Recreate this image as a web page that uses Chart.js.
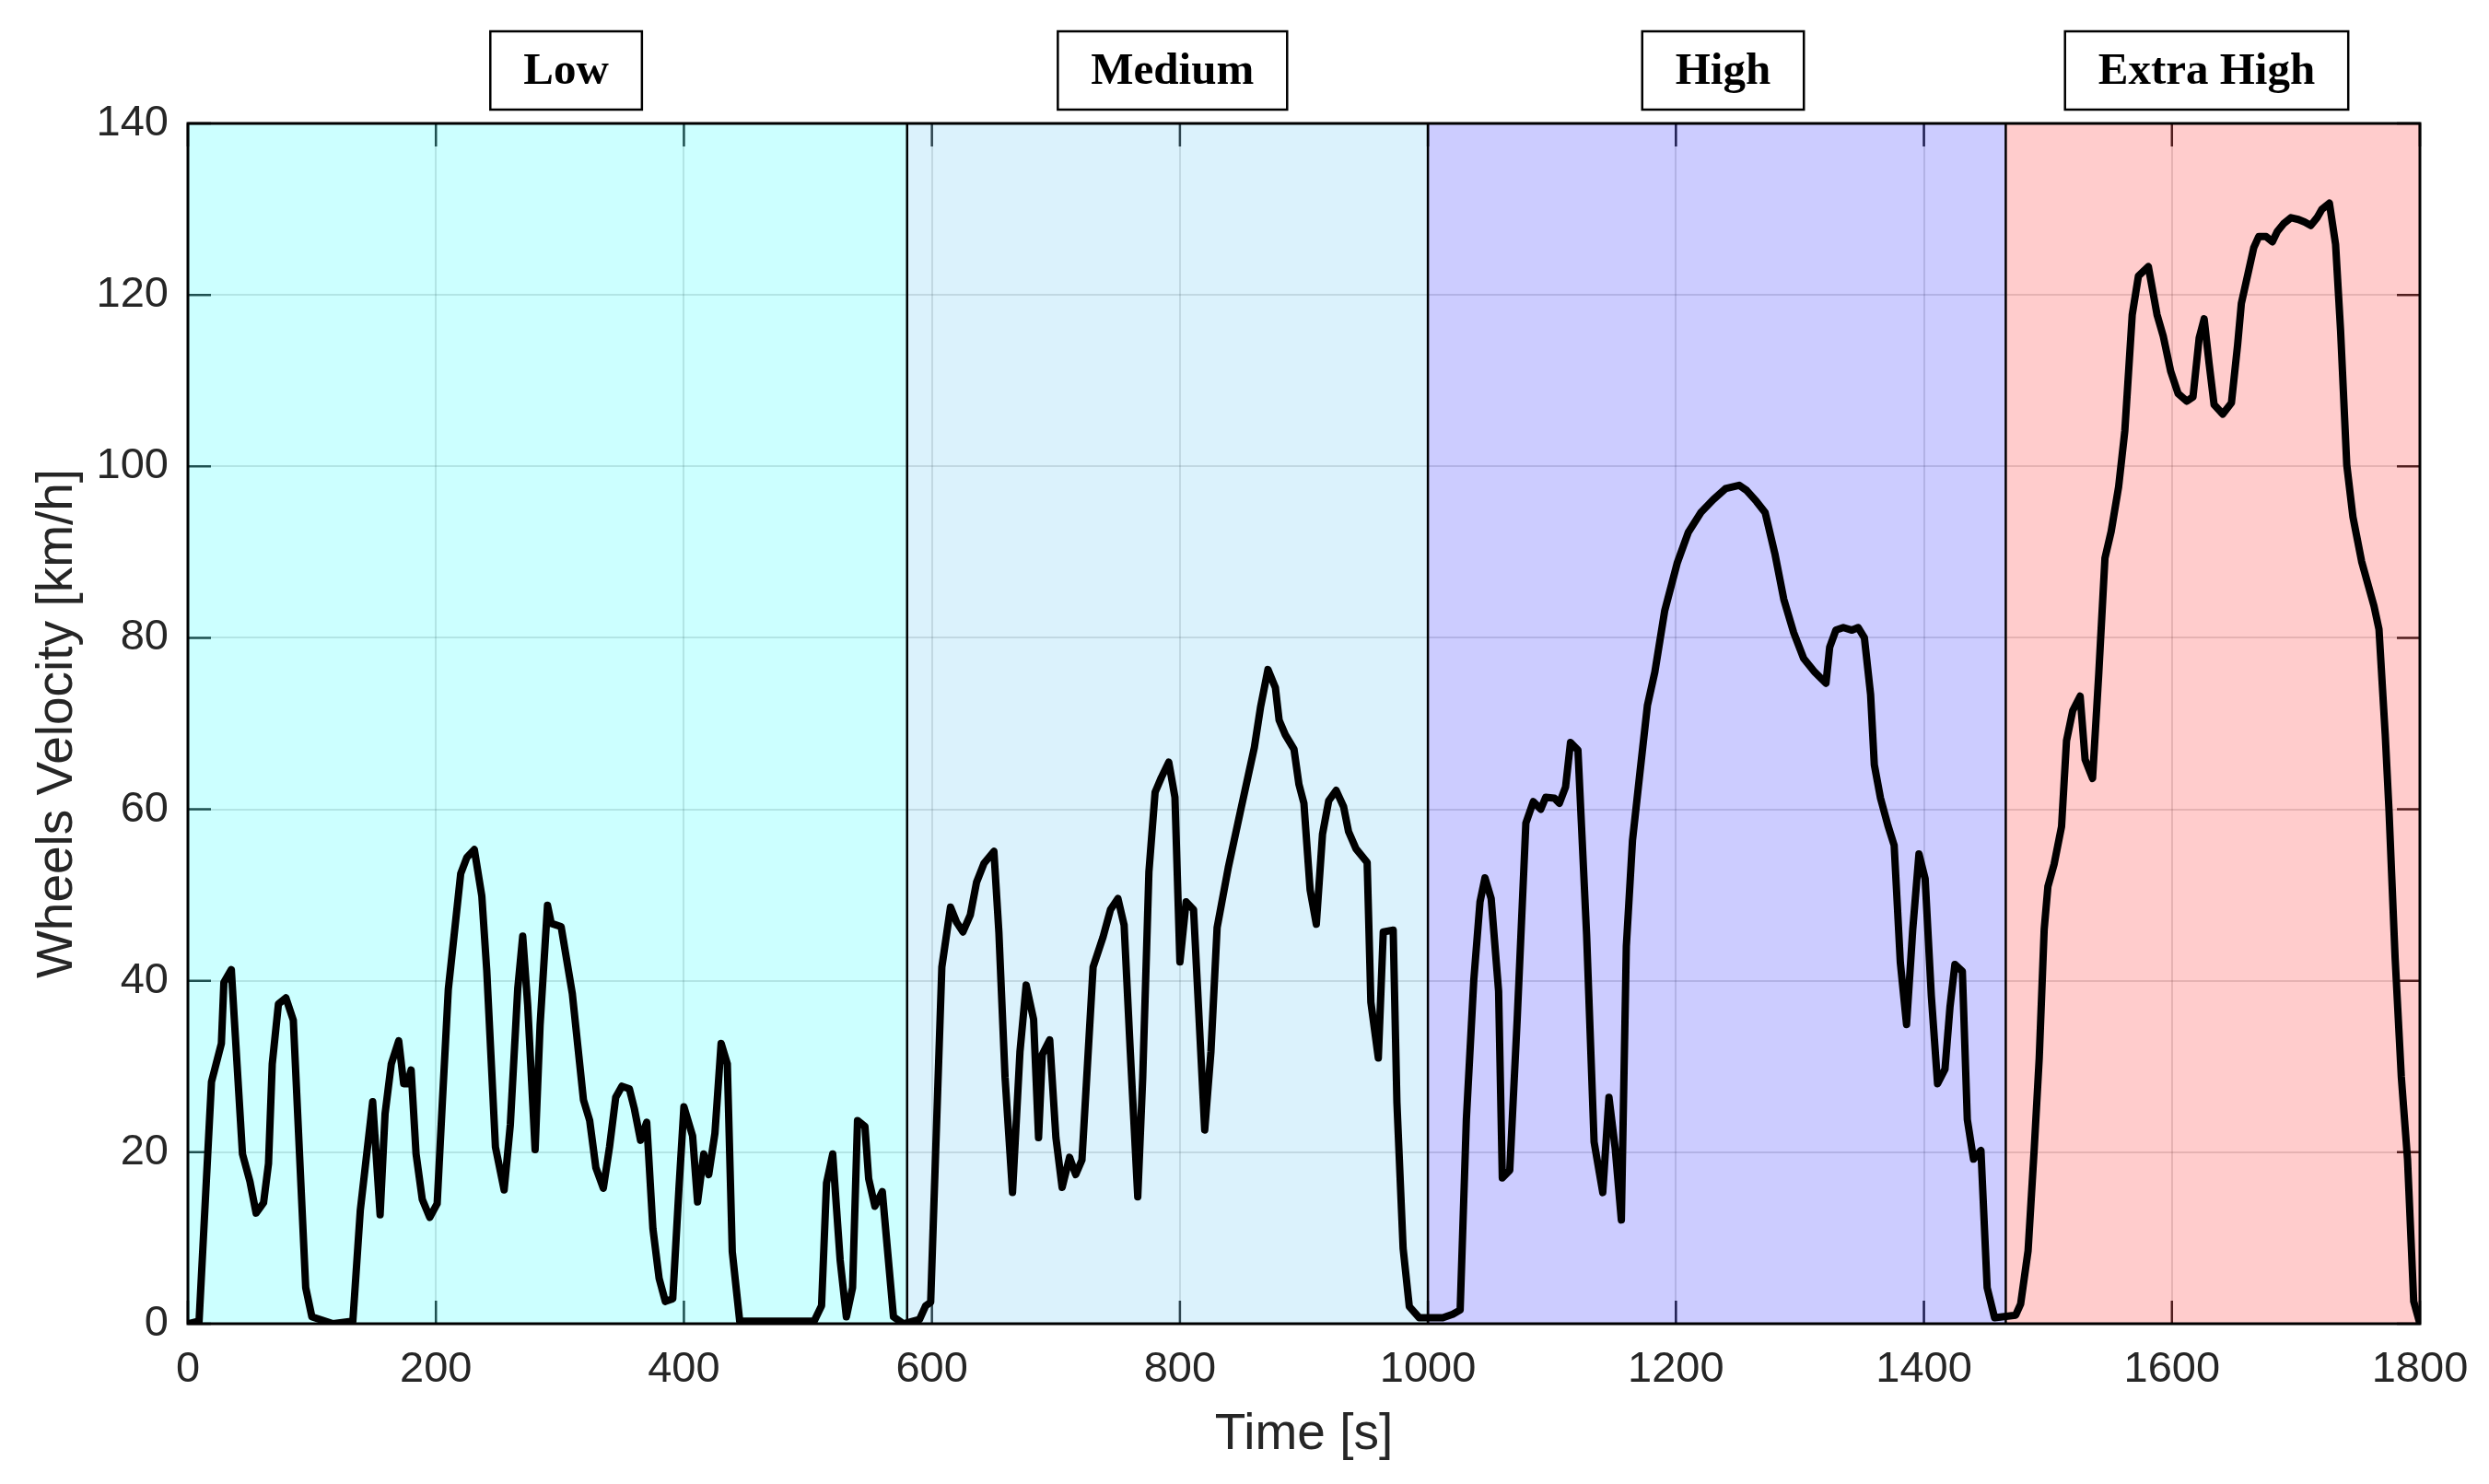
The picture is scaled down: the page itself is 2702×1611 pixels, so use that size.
<!DOCTYPE html>
<html>
<head>
<meta charset="utf-8">
<title>WLTP - Wheels Velocity</title>
<script src="https://cdn.jsdelivr.net/npm/chart.js@4.4.1/dist/chart.umd.min.js"></script>
<style>
  html, body { margin: 0; padding: 0; background: #ffffff; }
  canvas { display: block; }
</style>
</head>
<body>
<canvas id="miGrafica" width="2702" height="1611"></canvas>
<script>
// Datos: tiempo [s] y velocidad [km/h]
const tiempo = [
  // Low
  0, 9, 19, 27, 29, 35, 44, 50, 55, 61,
  65, 68, 73, 79, 85, 95, 100, 117, 133, 139,
  149, 155, 159, 164, 170, 174, 177, 180, 184, 189,
  195, 201, 205, 210, 220, 225, 231, 237, 241, 248,
  255, 260, 266, 270, 274, 280, 284, 290, 293, 301,
  310, 319, 324, 329, 335, 340, 345, 350, 356, 360,
  365, 370, 375, 380, 385, 391, 396, 400, 407, 411,
  416, 420, 425, 430, 435, 439, 445, 505, 511, 515,
  520, 526, 531, 536, 540, 546, 549, 554, 560, 569,
  577, 590, 595,
  // Medium
  599, 603, 608, 615, 620, 625, 631, 636, 642, 650,
  654, 659, 665, 671, 676, 682, 686, 689, 695, 700,
  705, 711, 716, 721, 730, 738, 744, 750, 755, 760,
  766, 770, 775, 780, 785, 791, 796, 800, 805, 811,
  820, 825, 830, 839, 849, 860, 865, 871, 877, 880,
  885, 892, 896, 900, 905, 910, 915, 920, 926, 932,
  936, 942, 951, 954, 960, 964, 972, 975, 980, 985,
  993, 1012,
  // High
  1020, 1026, 1031, 1037, 1042, 1046, 1051, 1057, 1060, 1066,
  1072, 1079, 1085, 1091, 1095, 1102, 1106, 1111, 1115, 1121,
  1128, 1134, 1141, 1146, 1151, 1156, 1160, 1165, 1171, 1177,
  1183, 1191, 1201, 1210, 1220, 1230, 1240, 1251, 1257, 1265,
  1272, 1280, 1287, 1295, 1303, 1312, 1321, 1324, 1329, 1335,
  1342, 1347, 1352, 1357, 1360, 1365, 1371, 1376, 1381, 1386,
  1391, 1396, 1401, 1406, 1411, 1417, 1421, 1425, 1431, 1435,
  1440, 1446, 1451, 1457, 1474, 1478,
  // Extra High
  1484, 1489, 1493, 1497, 1500, 1505, 1511, 1515, 1520, 1526,
  1530, 1536, 1541, 1546, 1551, 1557, 1562, 1568, 1573, 1581,
  1588, 1593, 1599, 1605, 1612, 1617, 1622, 1626, 1630, 1634,
  1641, 1648, 1653, 1656, 1662, 1666, 1670, 1676, 1681, 1685,
  1690, 1696, 1702, 1707, 1712, 1717, 1721, 1727, 1732, 1736,
  1741, 1746, 1753, 1763, 1767, 1772, 1775, 1780, 1785, 1790,
  1795, 1800
];

const velocidad = [
  // Low
  0, 0.3, 28.2, 32.7, 39.8, 41.3, 19.8, 16.6, 12.9, 14.1,
  18.7, 30.3, 37.3, 38.0, 35.4, 4.2, 0.8, 0, 0.3, 13.2,
  25.9, 12.7, 24.5, 30.3, 33.0, 28.0, 28.0, 29.6, 19.8, 14.5,
  12.4, 14.0, 25.3, 39.0, 52.5, 54.4, 55.3, 49.9, 41.2, 20.6,
  15.6, 23.2, 39.1, 45.2, 37.2, 20.3, 34.8, 48.8, 46.7, 46.3,
  38.5, 26.1, 23.7, 18.2, 15.8, 20.6, 26.4, 27.7, 27.4, 25.1,
  21.4, 23.5, 11.1, 5.3, 2.6, 2.9, 15.8, 25.3, 21.9, 14.2,
  19.8, 17.4, 22.2, 32.7, 30.3, 8.4, 0.3, 0.3, 2.1, 16.4,
  19.8, 7.4, 0.8, 4.2, 23.7, 23.0, 16.9, 13.7, 15.4, 0.8,
  0, 0.5, 2.1,
  // Medium
  2.5, 20, 41.6, 48.6, 46.8, 45.7, 47.7, 51.5, 53.7, 55.1,
  45.7, 28.7, 15.3, 31.7, 39.5, 35.5, 21.7, 31.4, 33.1, 21.7,
  15.9, 19.4, 17.4, 19.1, 41.6, 45.1, 48.3, 49.6, 46.5, 31.7,
  14.8, 28.7, 52.7, 62.0, 63.7, 65.5, 61.4, 42.2, 49.2, 48.3,
  22.6, 31.7, 46.2, 53.2, 59.9, 67.2, 71.9, 76.3, 74.2, 70.4,
  68.7, 67.0, 62.9, 60.7, 50.6, 46.6, 57.1, 61.0, 62.2, 60.3,
  57.4, 55.4, 53.8, 37.5, 31.0, 45.7, 45.9, 25.8, 8.8, 2.0,
  0.7, 0.7,
  // High
  1.1, 1.6, 23.8, 40.1, 49.2, 52.0, 49.6, 38.8, 17.0, 17.9,
  35.5, 58.4, 60.9, 60.0, 61.4, 61.3, 60.7, 62.6, 67.8, 66.9,
  45.3, 21.2, 15.3, 26.4, 20.5, 12.1, 44.0, 56.4, 64.3, 72.1,
  76.0, 83.2, 88.7, 92.3, 94.6, 96.1, 97.4, 97.8, 97.2, 95.9,
  94.6, 89.7, 84.5, 80.6, 77.6, 76.0, 74.7, 78.9, 80.9, 81.2,
  80.9, 81.2, 80.0, 73.4, 65.2, 61.3, 58.1, 55.8, 42.1, 34.9,
  46.0, 54.8, 51.9, 38.2, 28.0, 29.7, 36.9, 41.9, 41.1, 23.8,
  19.2, 20.2, 4.2, 0.7, 1.0, 2.3,
  // Extra High
  8.5, 20.5, 31, 46, 51.0, 53.6, 58.0, 68.0, 71.5, 73.2,
  65.8, 63.6, 75.8, 89.3, 92.4, 97.6, 104.1, 117.7, 122.2, 123.3,
  117.7, 115.2, 111.1, 108.5, 107.6, 108.1, 115.0, 117.2, 112.0, 107.2,
  106.1, 107.4, 114.2, 119.0, 122.9, 125.5, 126.8, 126.8, 126.2, 127.4,
  128.3, 129.0, 128.8, 128.5, 128.1, 129.0, 130.0, 130.7, 125.9, 115.9,
  100.2, 94.1, 88.9, 83.7, 81.0, 68.8, 60.1, 42.7, 28.8, 19.2,
  2.6, 0
];

// Fases del ciclo y sus límites en el tiempo [s]
const fases = ['Low', 'Medium', 'High', 'Extra High'];
const limitesFases = [0, 580, 1000, 1466, 1800];
const centrosEtiquetas = [305, 794, 1238, 1628];

// Marcas de los ejes
const ticksTiempo = [0, 200, 400, 600, 800, 1000, 1200, 1400, 1600, 1800];
const ticksVelocidad = [0, 20, 40, 60, 80, 100, 120, 140];

// Colores (parche con transparencia 0.2, como en MATLAB)
const coloresFases = [
  'rgba(0, 255, 255, 0.2)',
  'rgba(77, 190, 238, 0.2)',
  'rgba(0, 0, 255, 0.2)',
  'rgba(255, 0, 0, 0.2)'
];
const colorTexto = '#262626';

// Plugin: marcas hacia dentro, bandas de fases, marco y etiquetas
const pluginFases = {
  id: 'fases',
  beforeDatasetsDraw(chart) {
    const { ctx, chartArea: a, scales: { x, y } } = chart;
    ctx.save();

    // marcas hacia dentro en los cuatro lados
    ctx.strokeStyle = colorTexto;
    ctx.lineWidth = 2.5;
    ctx.beginPath();
    ticksTiempo.forEach(t => {
      const px = x.getPixelForValue(t);
      ctx.moveTo(px, a.bottom); ctx.lineTo(px, a.bottom - 25);
      ctx.moveTo(px, a.top); ctx.lineTo(px, a.top + 25);
    });
    ticksVelocidad.forEach(v => {
      const py = y.getPixelForValue(v);
      ctx.moveTo(a.left, py); ctx.lineTo(a.left + 25, py);
      ctx.moveTo(a.right, py); ctx.lineTo(a.right - 25, py);
    });
    ctx.stroke();

    // bandas de color
    fases.forEach((f, i) => {
      const x0 = x.getPixelForValue(limitesFases[i]);
      const x1 = x.getPixelForValue(limitesFases[i + 1]);
      ctx.fillStyle = coloresFases[i];
      ctx.fillRect(x0, a.top, x1 - x0, a.bottom - a.top);
    });

    // líneas de separación
    ctx.strokeStyle = '#000000';
    ctx.lineWidth = 2.5;
    ctx.beginPath();
    limitesFases.slice(1, -1).forEach(t => {
      const px = x.getPixelForValue(t);
      ctx.moveTo(px, a.top); ctx.lineTo(px, a.bottom);
    });
    ctx.stroke();
    ctx.restore();
  },
  afterDraw(chart) {
    const { ctx, chartArea: a, scales: { x } } = chart;
    ctx.save();

    // marco
    ctx.strokeStyle = '#000000';
    ctx.lineWidth = 3;
    ctx.strokeRect(a.left, a.top, a.right - a.left, a.bottom - a.top);

    // etiquetas de las fases
    ctx.font = 'bold 49px "Liberation Serif", "Times New Roman", serif';
    ctx.textAlign = 'center';
    ctx.textBaseline = 'middle';
    ctx.lineWidth = 2.5;
    fases.forEach((f, i) => {
      const cx = x.getPixelForValue(centrosEtiquetas[i]);
      const w = ctx.measureText(f).width + 72;
      const top = 34, h = 85;
      ctx.fillStyle = '#ffffff';
      ctx.fillRect(cx - w / 2, top, w, h);
      ctx.strokeRect(cx - w / 2, top, w, h);
      ctx.fillStyle = '#000000';
      ctx.fillText(f, cx, top + h / 2 + 2);
    });
    ctx.restore();
  }
};

document.addEventListener('DOMContentLoaded', function() {
  const ctx = document.getElementById('miGrafica').getContext('2d');
  const fuente = { family: '"Liberation Sans", Arial, Helvetica, sans-serif' };

  const miGrafica = new Chart(ctx, {
    type: 'line',
    data: {
      datasets: [{
        label: 'Wheels Velocity',
        data: tiempo.map((t, i) => ({ x: t, y: velocidad[i] })),
        borderColor: '#000000',
        borderWidth: 8,
        borderJoinStyle: 'round',
        borderCapStyle: 'round',
        pointRadius: 0,
        fill: false,
        tension: 0
      }]
    },
    options: {
      responsive: false,
      devicePixelRatio: 1,
      animation: false,
      layout: { padding: { left: 0, right: 75, top: 134, bottom: 0 } },
      plugins: {
        legend: { display: false },
        tooltip: { enabled: false }
      },
      scales: {
        x: {
          type: 'linear',
          min: 0,
          max: 1800,
          afterBuildTicks: s => { s.ticks = ticksTiempo.map(v => ({ value: v })); },
          afterFit: s => { s.height = 174; },
          ticks: {
            autoSkip: false,
            maxRotation: 0,
            padding: 22,
            color: colorTexto,
            font: { ...fuente, size: 47 },
            callback: v => String(v)
          },
          grid: { color: 'rgba(38, 38, 38, 0.15)', lineWidth: 2, drawTicks: false },
          border: { display: false },
          title: {
            display: true,
            text: 'Time [s]',
            color: colorTexto,
            font: { ...fuente, size: 55 },
            padding: { top: 0, bottom: 20 }
          }
        },
        y: {
          min: 0,
          max: 140,
          afterBuildTicks: s => { s.ticks = ticksVelocidad.map(v => ({ value: v })); },
          afterFit: s => { s.width = 204; },
          ticks: {
            padding: 21,
            color: colorTexto,
            font: { ...fuente, size: 47 },
            callback: v => String(v)
          },
          grid: { color: 'rgba(38, 38, 38, 0.15)', lineWidth: 2, drawTicks: false },
          border: { display: false },
          title: {
            display: true,
            text: 'Wheels Velocity [km/h]',
            color: colorTexto,
            font: { ...fuente, size: 55 },
            padding: { top: 30, bottom: 0 }
          }
        }
      }
    },
    plugins: [pluginFases]
  });
});
</script>
</body>
</html>
